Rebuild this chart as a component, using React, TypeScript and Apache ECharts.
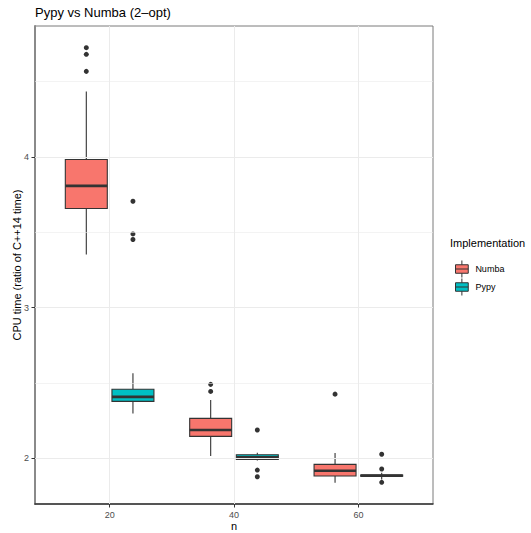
import React, { useEffect, useRef } from "react";
import * as echarts from "echarts";

// categories (n) and their factor positions on the x axis
const categories = ["20", "40", "60"];
const implementations = ["Numba", "Pypy"];
const colors = ["#F8766D", "#00BFC4"];

// box statistics per n: [lower whisker, Q1, median, Q3, upper whisker]
const numbaStats = [
  [3.353, 3.658, 3.808, 3.983, 4.434],
  [2.015, 2.146, 2.188, 2.265, 2.387],
  [1.838, 1.883, 1.918, 1.96, 2.035],
];
const pypyStats = [
  [2.298, 2.378, 2.408, 2.458, 2.564],
  [1.985, 1.993, 2.007, 2.024, 2.037],
  [1.86, 1.881, 1.885, 1.889, 1.905],
];

// outliers per n
const numbaOutliers = [[4.725, 4.681, 4.568], [2.491, 2.444], [2.426]];
const pypyOutliers = [[3.706, 3.489, 3.452], [2.188, 1.922, 1.878], [2.027, 1.929, 1.841]];

// axis ticks
const yTicks = [2, 3, 4];
const yMinorTicks = [2.5, 3.5, 4.5];
const xTicks = [1, 2, 3];

const DODGE = 0.1875;
const BOX_W = 0.3375;
const FONT = "'Liberation Sans', Arial, Helvetica, sans-serif";

function boxData(stats: number[][], offset: number) {
  return stats.map((s, i) => [i + 1 + offset, ...s]);
}
function outlierData(out: number[][], offset: number) {
  const res: number[][] = [];
  out.forEach((arr, i) => arr.forEach((v) => res.push([i + 1 + offset, v])));
  return res;
}

function renderBox(params: any, api: any) {
  const x = api.value(0);
  const pMin = api.coord([x, api.value(1)]);
  const pQ1 = api.coord([x, api.value(2)]);
  const pMed = api.coord([x, api.value(3)]);
  const pQ3 = api.coord([x, api.value(4)]);
  const pMax = api.coord([x, api.value(5)]);
  const w = api.size([BOX_W, 0])[0];
  const fill = api.visual("color");
  const cx = pMed[0];
  const stroke = "#333333";
  return {
    type: "group",
    children: [
      {
        type: "line",
        shape: { x1: cx, y1: pMax[1], x2: cx, y2: pQ3[1] },
        style: { stroke, lineWidth: 1.1 },
      },
      {
        type: "line",
        shape: { x1: cx, y1: pQ1[1], x2: cx, y2: pMin[1] },
        style: { stroke, lineWidth: 1.1 },
      },
      {
        type: "rect",
        shape: { x: cx - w / 2, y: pQ3[1], width: w, height: pQ1[1] - pQ3[1] },
        style: { fill, stroke, lineWidth: 1.1 },
      },
      {
        type: "line",
        shape: { x1: cx - w / 2, y1: pMed[1], x2: cx + w / 2, y2: pMed[1] },
        style: { stroke, lineWidth: 2.6 },
      },
    ],
  };
}

const legendIcon =
  "path://M50,0L50,25M12.5,25L87.5,25L87.5,75L12.5,75ZM12.5,50L87.5,50M50,75L50,100";

export default function App() {
  const ref = useRef<HTMLDivElement>(null);
  useEffect(() => {
    document.body.style.margin = "0";
    const chart = echarts.init(ref.current!, undefined, { renderer: "svg" });
    const gridLines = [
      ...yTicks.map((v) => ({ yAxis: v, lineStyle: { width: 1 } })),
      ...yMinorTicks.map((v) => ({ yAxis: v, lineStyle: { width: 0.6 } })),
      ...xTicks.map((v) => ({ xAxis: v, lineStyle: { width: 1 } })),
    ];
    chart.setOption({
      animation: false,
      backgroundColor: "#ffffff",
      textStyle: { fontFamily: FONT },
      title: {
        text: "Pypy vs Numba (2\u2013opt)",
        left: 35,
        top: 6,
        padding: 0,
        textStyle: { fontSize: 13, fontWeight: "normal", color: "#000", fontFamily: FONT },
      },
      grid: {
        left: 35,
        top: 26,
        right: 98,
        bottom: 29,
        outerBoundsMode: "none",
        containLabel: false,
        show: true,
        borderColor: "#7a7a7a",
        borderWidth: 1,
        backgroundColor: "transparent",
      },
      legend: {
        data: implementations,
        orient: "vertical",
        left: 450,
        top: 255,
        itemWidth: 17,
        itemHeight: 17,
        itemGap: 0,
        icon: legendIcon,
        itemStyle: { borderColor: "#333333", borderWidth: 1 },
        textStyle: { fontSize: 9, color: "#000", fontFamily: FONT },
        selectedMode: false,
      },
      graphic: [
        {
          type: "text",
          left: 450,
          top: 237,
          style: { text: "Implementation", fontSize: 11, fill: "#000", fontFamily: FONT },
        },
      ],
      xAxis: {
        type: "value",
        min: 0.4,
        max: 3.6,
        name: "n",
        nameLocation: "middle",
        nameGap: 16,
        nameMoveOverlap: false,
        nameTextStyle: { fontSize: 11, color: "#000000", fontFamily: FONT },
        axisLine: { show: true, onZero: false, lineStyle: { color: "#333333", width: 1.5 } },
        axisTick: { show: true, length: 3.5, customValues: xTicks, lineStyle: { color: "#333333" } },
        axisLabel: {
          customValues: xTicks,
          formatter: (v: number) => categories[Math.round(v) - 1] ?? "",
          fontSize: 9,
          color: "#4d4d4d",
          margin: 6,
          fontFamily: FONT,
        },
        splitLine: { show: false },
      },
      yAxis: {
        type: "value",
        min: 1.697,
        max: 4.869,
        name: "CPU time (ratio of C++14 time)",
        nameLocation: "middle",
        nameRotate: 90,
        nameGap: 13,
        nameMoveOverlap: false,
        nameTextStyle: { fontSize: 11, color: "#000000", fontFamily: FONT },
        axisLine: { show: true, onZero: false, lineStyle: { color: "#8a8a8a", width: 2 } },
        axisTick: { show: true, length: 3.5, customValues: yTicks, lineStyle: { color: "#333333" } },
        axisLabel: {
          customValues: yTicks,
          fontSize: 9,
          color: "#4d4d4d",
          margin: 6,
          fontFamily: FONT,
        },
        splitLine: { show: false },
      },
      series: [
        {
          type: "scatter",
          name: "grid",
          data: [],
          silent: true,
          z: 0,
          markLine: {
            silent: true,
            symbol: ["none", "none"],
            label: { show: false },
            lineStyle: { color: "#ebebeb", type: "solid" },
            data: gridLines,
          },
        },
        {
          type: "custom",
          name: "Numba",
          itemStyle: { color: colors[0] },
          dimensions: ["x", "min", "q1", "median", "q3", "max"],
          encode: { x: 0, y: [1, 2, 3, 4, 5] },
          data: boxData(numbaStats, -DODGE),
          renderItem: renderBox,
          z: 2,
        },
        {
          type: "custom",
          name: "Pypy",
          itemStyle: { color: colors[1] },
          dimensions: ["x", "min", "q1", "median", "q3", "max"],
          encode: { x: 0, y: [1, 2, 3, 4, 5] },
          data: boxData(pypyStats, DODGE),
          renderItem: renderBox,
          z: 2,
        },
        {
          type: "scatter",
          name: "Numba outliers",
          data: outlierData(numbaOutliers, -DODGE),
          symbol: "circle",
          symbolSize: 5,
          itemStyle: { color: "#333333", opacity: 1 },
          z: 3,
        },
        {
          type: "scatter",
          name: "Pypy outliers",
          data: outlierData(pypyOutliers, DODGE),
          symbol: "circle",
          symbolSize: 5,
          itemStyle: { color: "#333333", opacity: 1 },
          z: 3,
        },
      ],
    });
    return () => chart.dispose();
  }, []);
  return <div ref={ref} style={{ width: 531, height: 533 }} />;
}
